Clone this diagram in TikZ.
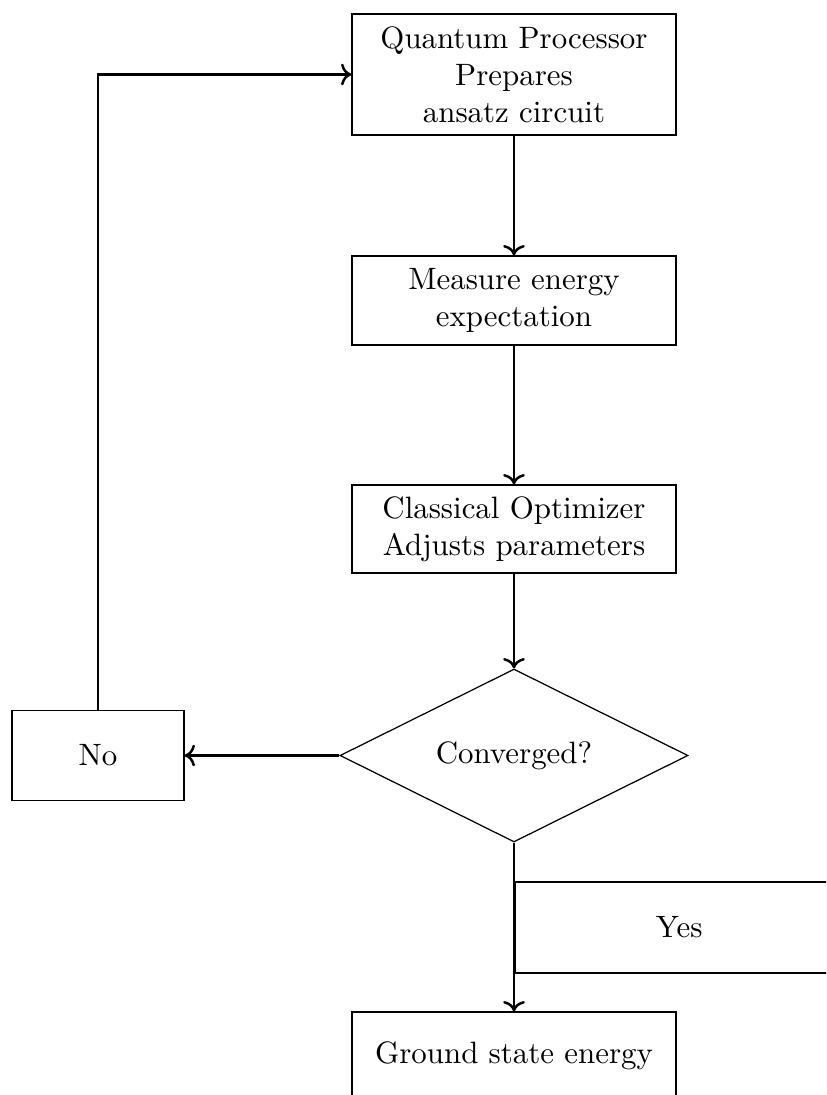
\documentclass[tikz,border=0pt]{standalone}
\usetikzlibrary{shapes.geometric,arrows.meta}
\begin{document}
\begin{tikzpicture}[
  x=0.3236pt, y=-0.3236pt,
  procbox/.style={draw, rectangle, align=center, line width=0.4pt,
    minimum width={324*0.3236pt}, inner sep=0.3333em},
  decbox/.style={draw, diamond, aspect=2, line width=0.4pt,
    minimum width={348*0.3236pt}, minimum height={173*0.3236pt}, inner sep=1pt},
  flow/.style={->, thick},
]
\clip (0,0) rectangle (826,1095);

% main process chain
\node[procbox, minimum height={121*0.3236pt}] (prep) at (514,74.5)
  {Quantum Processor\\Prepares\\ansatz circuit};
\node[procbox, minimum height={89*0.3236pt}] (meas) at (514,300.5)
  {Measure energy\\expectation};
\node[procbox, minimum height={88*0.3236pt}] (opt) at (514,529)
  {Classical Optimizer\\Adjusts parameters};
\node[decbox] (conv) at (514,755.5) {Converged?};
\node[procbox, minimum width={172*0.3236pt}, minimum height={90*0.3236pt}] (no) at (98,755.5) {No};
\node[procbox, minimum height={88*0.3236pt}] (ground) at (514,1056) {Ground state energy};

% label box on the exit branch
\node[procbox, thick, anchor=west, minimum width={328*0.3236pt},
  minimum height={91*0.3236pt}] (yes) at (514,927.5) {Yes};

% connectors
\draw[flow] (prep) -- (meas);
\draw[flow] (meas) -- (opt);
\draw[flow] (opt) -- (conv);
\draw[flow] (conv.west) -- (no.east);
\draw[flow] (no.north) |- (prep.west);
\draw[flow] (conv.south) -- (ground.north);
\end{tikzpicture}
\end{document}
